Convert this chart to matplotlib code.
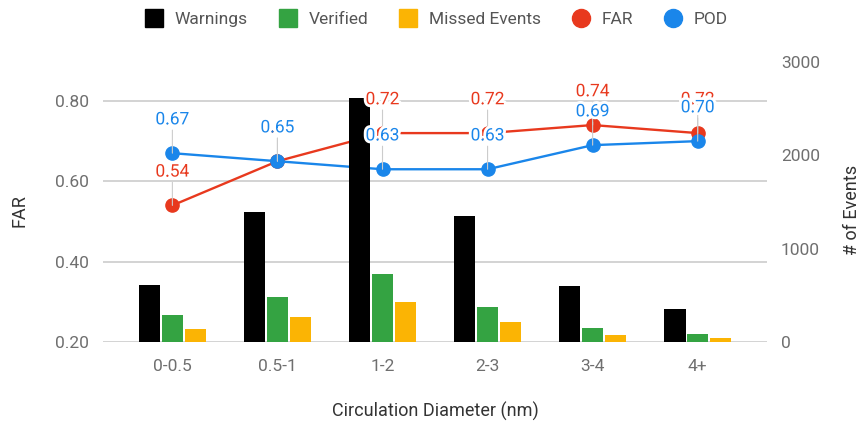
import numpy as np
import matplotlib
matplotlib.use("Agg")
from matplotlib import pyplot as plt
from matplotlib.lines import Line2D
import matplotlib.patheffects as pe

plt.rcParams['font.family'] = ['Roboto', 'DejaVu Sans']

categories = ['0-0.5', '0.5-1', '1-2', '2-3', '3-4', '4+']
warnings = [610, 1390, 2610, 1350, 600, 350]
verified = [285, 480, 725, 370, 155, 90]
missed = [135, 270, 425, 210, 70, 40]
far = [0.54, 0.65, 0.72, 0.72, 0.74, 0.72]
pod = [0.67, 0.65, 0.63, 0.63, 0.69, 0.70]

c_black = '#000000'
c_green = '#34a342'
c_orange = '#fbb404'
c_red = '#e8391e'
c_blue = '#1a86ea'
tick_gray = '#6f6f6f'
text_dark = '#333333'

fig = plt.figure(figsize=(8.63, 4.24), dpi=100)
ax = fig.add_axes([0.1194, 0.1934, 0.7694, 0.6604])
ax2 = ax.twinx()

x = np.arange(len(categories))
w = 0.203
step = 0.217

# bars on the right axis (drawn over the lines)
ax2.bar(x - step, warnings, w, color=c_black, zorder=2)
ax2.bar(x, verified, w, color=c_green, zorder=2)
ax2.bar(x + step, missed, w, color=c_orange, zorder=2)
ax2.set_ylim(0, 3000)
ax2.set_yticks([0, 1000, 2000, 3000])
ax2.set_yticklabels(['0', '1000', '2000', '3000'])

# lines on the left axis
ax.plot(x, far, color=c_red, lw=1.7, marker='o', ms=9.5, zorder=3)
ax.plot(x, pod, color=c_blue, lw=1.7, marker='o', ms=9.5, zorder=3)
ax.set_ylim(0.2, 0.897)
ax.set_yticks([0.2, 0.4, 0.6, 0.8])
ax.set_yticklabels(['0.20', '0.40', '0.60', '0.80'])
ax.set_xlim(-0.66, 5.66)
ax.set_xticks(x)
ax.set_xticklabels(categories)
ax.grid(axis='y', color='#cccccc', lw=1.2)
ax.set_axisbelow(True)

for a in (ax, ax2):
    for s in a.spines.values():
        s.set_visible(False)
    a.tick_params(length=0, labelsize=12.5, colors=tick_gray)
ax.tick_params(axis='y', pad=10)
ax.tick_params(axis='x', pad=12)
ax2.tick_params(axis='y', pad=10)

ax.set_ylabel('FAR', fontsize=13, color=text_dark)
ax.yaxis.set_label_coords(-0.112, 0.47)
ax2.set_ylabel('# of Events', fontsize=13, color=text_dark)
ax2.yaxis.set_label_coords(1.114, 0.47)
ax.set_xlabel('Circulation Diameter (nm)', fontsize=13, color=text_dark, labelpad=20)

# data labels with leader lines
halo = [pe.withStroke(linewidth=4, foreground='white')]
for vals, col in ((far, c_red), (pod, c_blue)):
    for xi, v in zip(x, vals):
        ax2.annotate(f'{v:.2f}', xy=(xi, v), xycoords=ax.transData,
                     xytext=(0, 24), textcoords='offset points',
                     ha='center', va='center', fontsize=12.5, color=col,
                     path_effects=halo, zorder=5,
                     arrowprops=dict(arrowstyle='-', color='#cccccc', lw=0.8,
                                     shrinkA=0, shrinkB=0, relpos=(0.5, 0)))

handles = [
    Line2D([], [], ls='none', marker='s', ms=13, color=c_black),
    Line2D([], [], ls='none', marker='s', ms=13, color=c_green),
    Line2D([], [], ls='none', marker='s', ms=13, color=c_orange),
    Line2D([], [], ls='none', marker='o', ms=13, color=c_red),
    Line2D([], [], ls='none', marker='o', ms=13, color=c_blue),
]
labels = ['Warnings', 'Verified', 'Missed Events', 'FAR', 'POD']
leg = fig.legend(handles, labels, loc='center', bbox_to_anchor=(0.506, 0.955),
                 ncol=5, frameon=False, fontsize=12.5, handlelength=1.0,
                 handletextpad=0.7, columnspacing=1.8)
for t in leg.get_texts():
    t.set_color('#555555')

fig.savefig('out.png', dpi=100)
